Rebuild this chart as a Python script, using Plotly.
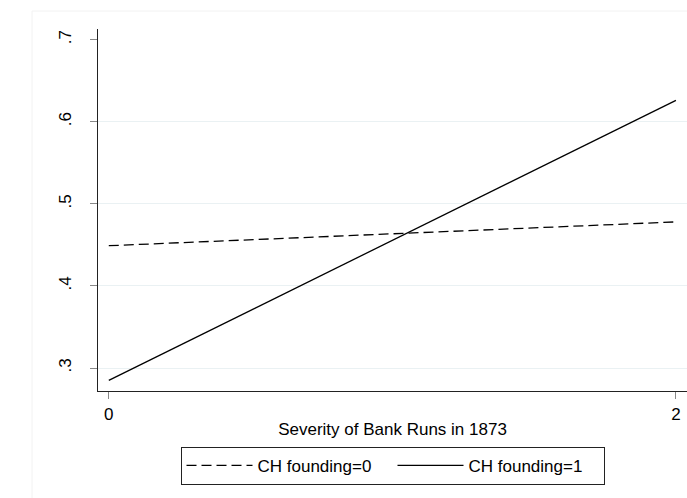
import plotly.graph_objects as go

# Data
x_vals = [0, 2]
ch0_vals = [0.449, 0.478]
ch1_vals = [0.285, 0.626]
series_names = ["CH founding=0", "CH founding=1"]
y_ticks = [0.3, 0.4, 0.5, 0.6, 0.7]
y_ticklabels = [".3", ".4", ".5", ".6", ".7"]
x_ticks = [0, 2]
x_ticklabels = ["0", "2"]
x_title = "Severity of Bank Runs in 1873"

FONT = "Arial, Liberation Sans, sans-serif"
yrange = [0.272, 0.713]
xrange = [-0.038, 2.039]

fig = go.Figure()
fig.add_trace(go.Scatter(x=x_vals, y=ch0_vals, mode="lines", name=series_names[0],
                         line=dict(color="black", width=1.3, dash="10px,5px")))
fig.add_trace(go.Scatter(x=x_vals, y=ch1_vals, mode="lines", name=series_names[1],
                         line=dict(color="black", width=1.3)))
fig.add_trace(go.Scatter(x=[None], y=[None], yaxis="y2", showlegend=False, hoverinfo="skip"))

fig.update_layout(
    width=687, height=498,
    margin=dict(l=98, r=0, t=29, b=107),
    paper_bgcolor="white", plot_bgcolor="white",
    font=dict(family=FONT, size=17, color="black"),
    xaxis=dict(range=xrange, tickvals=x_ticks, ticktext=x_ticklabels,
               showgrid=False, zeroline=False, showline=True, linecolor="#222",
               linewidth=1.3, ticks="outside", ticklen=7, tickcolor="#888",
               tickwidth=1.3, tickfont=dict(size=17), ticklabeloverflow="allow",
               title=dict(text=x_title, font=dict(size=17), standoff=0)),
    yaxis=dict(range=yrange, tickvals=y_ticks, ticktext=y_ticklabels,
               showgrid=False, zeroline=False, showline=True, linecolor="#222",
               linewidth=1.3, ticks="outside", ticklen=7, tickcolor="#888",
               tickwidth=1.3, tickangle=-90, tickfont=dict(size=17),
               ticklabelstandoff=12),
    yaxis2=dict(range=yrange, overlaying="y", tickvals=y_ticks[:-1],
                showticklabels=False, showgrid=True, gridcolor="#EAF1F3",
                gridwidth=1.3, zeroline=False, showline=False, layer="below traces"),
    legend=dict(orientation="h", x=0.5, xanchor="center", y=-0.154, yanchor="top",
                bordercolor="#222", borderwidth=1, bgcolor="white",
                font=dict(size=17), itemwidth=66, entrywidth=130, tracegroupgap=0),
    showlegend=True,
)
fig.add_shape(type="rect", xref="paper", yref="paper",
              x0=-66/589, x1=1.05, y0=-0.5, y1=380/362,
              line=dict(color="#F2F2F2", width=1), fillcolor="rgba(0,0,0,0)", layer="below")
fig.write_html("out.html", config={"displayModeBar": False},
               post_script="document.body.style.margin='0';document.body.style.overflow='hidden';")
